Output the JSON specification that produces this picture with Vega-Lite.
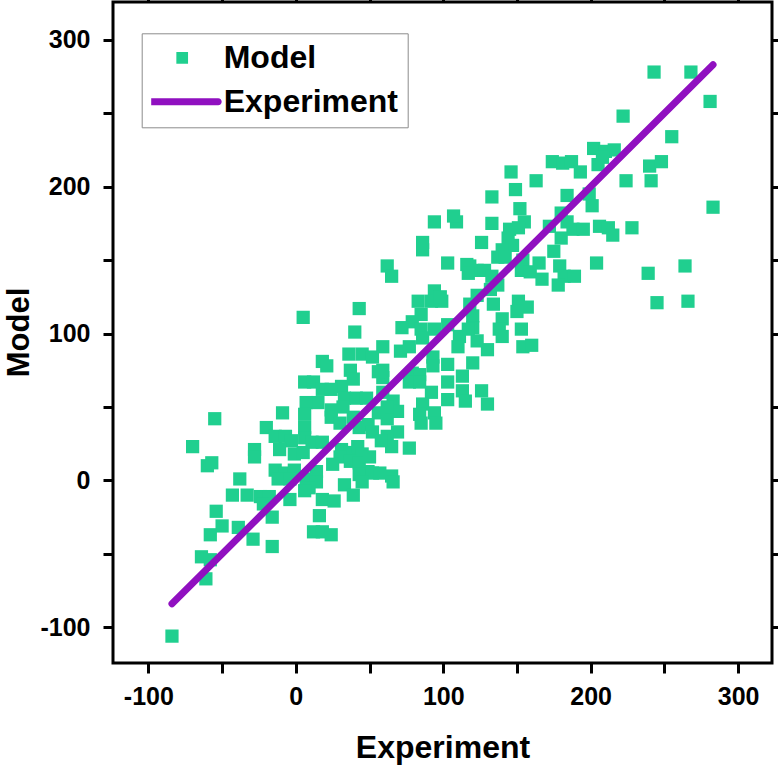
{
  "$schema": "https://vega.github.io/schema/vega-lite/v6.json",
  "width": 659,
  "height": 661,
  "autosize": {"type": "none"},
  "padding": {"left": 113, "top": 2, "right": 6, "bottom": 102},
  "background": "white",
  "config": {
    "view": {"stroke": "black", "strokeWidth": 3},
    "axis": {
      "labelFont": "Liberation Sans",
      "labelFontWeight": "bold",
      "labelFontSize": 25,
      "labelColor": "black",
      "titleFont": "Liberation Sans",
      "titleFontWeight": "bold",
      "titleFontSize": 32,
      "titleColor": "black",
      "tickColor": "black",
      "tickWidth": 3,
      "tickSize": 10,
      "domain": false,
      "grid": false,
      "labelFlush": false,
      "labelOverlap": false
    },
    "legend": {
      "orient": "none",
      "legendX": 28.7,
      "legendY": 31.3,
      "direction": "vertical",
      "labelFont": "Liberation Sans",
      "labelFontWeight": "bold",
      "labelFontSize": 32,
      "labelColor": "black",
      "labelLimit": 0,
      "symbolSize": 6241,
      "symbolStrokeWidth": 0,
      "clipHeight": 30,
      "rowPadding": 12,
      "padding": 9.5,
      "symbolOffset": -8.5,
      "labelOffset": 2,
      "strokeColor": "#8c8c8c",
      "fillColor": "white"
    }
  },
  "datasets": {
    "points": [
      {"experiment": 243, "model": 278}, {"experiment": 268, "model": 278}, {"experiment": 281, "model": 258},
      {"experiment": 222, "model": 248}, {"experiment": 255, "model": 234}, {"experiment": 202, "model": 226},
      {"experiment": 210, "model": 224}, {"experiment": 216, "model": 225}, {"experiment": 174, "model": 217},
      {"experiment": 181, "model": 216}, {"experiment": 187, "model": 217}, {"experiment": 193, "model": 210},
      {"experiment": 205, "model": 215}, {"experiment": 208, "model": 220}, {"experiment": 240, "model": 214},
      {"experiment": 248, "model": 217}, {"experiment": 224, "model": 204}, {"experiment": 241, "model": 204},
      {"experiment": 184, "model": 194}, {"experiment": 199, "model": 195}, {"experiment": 201, "model": 187},
      {"experiment": 180, "model": 182}, {"experiment": 283, "model": 186}, {"experiment": 184, "model": 176},
      {"experiment": 206, "model": 173}, {"experiment": 212, "model": 172}, {"experiment": 188, "model": 171},
      {"experiment": 195, "model": 171}, {"experiment": 215, "model": 167}, {"experiment": 228, "model": 172},
      {"experiment": 180, "model": 165}, {"experiment": 175, "model": 156}, {"experiment": 179, "model": 146},
      {"experiment": 204, "model": 148}, {"experiment": 264, "model": 146}, {"experiment": 239, "model": 141},
      {"experiment": 182, "model": 139}, {"experiment": 189, "model": 139}, {"experiment": 178, "model": 133},
      {"experiment": 245, "model": 121}, {"experiment": 266, "model": 122}, {"experiment": 146, "model": 210},
      {"experiment": 163, "model": 204}, {"experiment": 149, "model": 198}, {"experiment": 133, "model": 193},
      {"experiment": 152, "model": 185}, {"experiment": 133, "model": 175}, {"experiment": 155, "model": 176},
      {"experiment": 145, "model": 171}, {"experiment": 151, "model": 172}, {"experiment": 172, "model": 173},
      {"experiment": 126, "model": 162}, {"experiment": 144, "model": 165}, {"experiment": 147, "model": 160},
      {"experiment": 140, "model": 157}, {"experiment": 137, "model": 152}, {"experiment": 142, "model": 152},
      {"experiment": 154, "model": 150}, {"experiment": 118, "model": 146}, {"experiment": 123, "model": 143},
      {"experiment": 128, "model": 143}, {"experiment": 153, "model": 143}, {"experiment": 159, "model": 142},
      {"experiment": 165, "model": 148}, {"experiment": 133, "model": 139}, {"experiment": 167, "model": 137},
      {"experiment": 137, "model": 133}, {"experiment": 132, "model": 130}, {"experiment": 123, "model": 126},
      {"experiment": 118, "model": 120}, {"experiment": 134, "model": 120}, {"experiment": 151, "model": 122},
      {"experiment": 157, "model": 118}, {"experiment": 150, "model": 115}, {"experiment": 120, "model": 112},
      {"experiment": 140, "model": 110}, {"experiment": 120, "model": 104}, {"experiment": 138, "model": 103},
      {"experiment": 153, "model": 103}, {"experiment": 140, "model": 98}, {"experiment": 123, "model": 95},
      {"experiment": 130, "model": 89}, {"experiment": 154, "model": 91}, {"experiment": 160, "model": 92},
      {"experiment": 120, "model": 80}, {"experiment": 94, "model": 176}, {"experiment": 109, "model": 176},
      {"experiment": 86, "model": 162}, {"experiment": 86, "model": 157}, {"experiment": 103, "model": 148},
      {"experiment": 62, "model": 146}, {"experiment": 65, "model": 139}, {"experiment": 116, "model": 147},
      {"experiment": 117, "model": 141}, {"experiment": 94, "model": 129}, {"experiment": 99, "model": 122},
      {"experiment": 92, "model": 122}, {"experiment": 83, "model": 122}, {"experiment": 85, "model": 113},
      {"experiment": 79, "model": 108}, {"experiment": 72, "model": 104}, {"experiment": 85, "model": 103},
      {"experiment": 94, "model": 103}, {"experiment": 103, "model": 106}, {"experiment": 117, "model": 103},
      {"experiment": 86, "model": 97}, {"experiment": 111, "model": 98}, {"experiment": 59, "model": 91},
      {"experiment": 71, "model": 88}, {"experiment": 77, "model": 91}, {"experiment": 110, "model": 91},
      {"experiment": 93, "model": 84}, {"experiment": 103, "model": 79}, {"experiment": 93, "model": 78},
      {"experiment": 59, "model": 75}, {"experiment": 59, "model": 70}, {"experiment": 79, "model": 73},
      {"experiment": 84, "model": 72}, {"experiment": 77, "model": 67}, {"experiment": 84, "model": 67},
      {"experiment": 92, "model": 60}, {"experiment": 103, "model": 67}, {"experiment": 113, "model": 71},
      {"experiment": 113, "model": 61}, {"experiment": 126, "model": 61}, {"experiment": 59, "model": 60},
      {"experiment": 66, "model": 54}, {"experiment": 103, "model": 55}, {"experiment": 115, "model": 54},
      {"experiment": 130, "model": 52}, {"experiment": 86, "model": 52}, {"experiment": 84, "model": 45},
      {"experiment": 94, "model": 46}, {"experiment": 69, "model": 47}, {"experiment": 62, "model": 42},
      {"experiment": 85, "model": 39}, {"experiment": 95, "model": 39}, {"experiment": 69, "model": 33},
      {"experiment": 62, "model": 30}, {"experiment": 65, "model": 23}, {"experiment": 77, "model": 22},
      {"experiment": 107, "model": 180}, {"experiment": 98, "model": 125}, {"experiment": 5, "model": 111},
      {"experiment": 43, "model": 117}, {"experiment": 40, "model": 101}, {"experiment": 36, "model": 86},
      {"experiment": 45, "model": 86}, {"experiment": 52, "model": 84}, {"experiment": 18, "model": 81},
      {"experiment": 21, "model": 78}, {"experiment": 37, "model": 75}, {"experiment": 39, "model": 69},
      {"experiment": 56, "model": 74}, {"experiment": 6, "model": 67}, {"experiment": 12, "model": 67},
      {"experiment": 31, "model": 64}, {"experiment": 18, "model": 62}, {"experiment": 24, "model": 62},
      {"experiment": 33, "model": 56}, {"experiment": 41, "model": 56}, {"experiment": 48, "model": 56},
      {"experiment": 15, "model": 53}, {"experiment": 7, "model": 53}, {"experiment": -9, "model": 46},
      {"experiment": 24, "model": 48}, {"experiment": 32, "model": 50}, {"experiment": 62, "model": 50},
      {"experiment": 56, "model": 46}, {"experiment": 24, "model": 43}, {"experiment": 30, "model": 39},
      {"experiment": 39, "model": 43}, {"experiment": 43, "model": 36}, {"experiment": 49, "model": 38},
      {"experiment": 52, "model": 33}, {"experiment": 58, "model": 27}, {"experiment": -20, "model": 36},
      {"experiment": -14, "model": 30}, {"experiment": -7, "model": 30}, {"experiment": -3, "model": 27},
      {"experiment": 6, "model": 36}, {"experiment": 6, "model": 29}, {"experiment": 11, "model": 26},
      {"experiment": 18, "model": 26}, {"experiment": -11, "model": 21}, {"experiment": -1, "model": 18},
      {"experiment": 5, "model": 19}, {"experiment": 31, "model": 21}, {"experiment": 37, "model": 19},
      {"experiment": 42, "model": 23}, {"experiment": 45, "model": 18}, {"experiment": 30, "model": 16},
      {"experiment": 37, "model": 13}, {"experiment": -14, "model": 7}, {"experiment": -7, "model": 5},
      {"experiment": -1, "model": 7}, {"experiment": 14, "model": 6}, {"experiment": 25, "model": 11},
      {"experiment": 43, "model": 12}, {"experiment": 50, "model": 16}, {"experiment": 49, "model": 6},
      {"experiment": 43, "model": 4}, {"experiment": 52, "model": 5}, {"experiment": 57, "model": 5},
      {"experiment": 65, "model": 3}, {"experiment": 45, "model": -1}, {"experiment": 66, "model": -1},
      {"experiment": -12, "model": 1}, {"experiment": -4, "model": 1}, {"experiment": 7, "model": 1},
      {"experiment": 14, "model": -1}, {"experiment": 9, "model": -5}, {"experiment": 33, "model": -3},
      {"experiment": 39, "model": -10}, {"experiment": -24, "model": -11}, {"experiment": -18, "model": -11},
      {"experiment": -4, "model": -13}, {"experiment": 6, "model": -7}, {"experiment": 18, "model": -13},
      {"experiment": 26, "model": -14}, {"experiment": -22, "model": -16}, {"experiment": -16, "model": -25},
      {"experiment": 16, "model": -24}, {"experiment": 12, "model": -35}, {"experiment": 18, "model": -35},
      {"experiment": 24, "model": -37}, {"experiment": -16, "model": -45}, {"experiment": -55, "model": 42},
      {"experiment": -70, "model": 23}, {"experiment": -60, "model": 10}, {"experiment": -57, "model": 12},
      {"experiment": 6, "model": 45}, {"experiment": -28, "model": 21}, {"experiment": -28, "model": 16},
      {"experiment": -38, "model": 1}, {"experiment": -43, "model": -10}, {"experiment": -33, "model": -10},
      {"experiment": -54, "model": -21}, {"experiment": -50, "model": -31}, {"experiment": -39, "model": -32},
      {"experiment": -58, "model": -37}, {"experiment": -29, "model": -40}, {"experiment": -64, "model": -52},
      {"experiment": -58, "model": -54}, {"experiment": -61, "model": -67}, {"experiment": -84, "model": -106}
    ],
    "line": [
      {"experiment": -84, "model": -84},
      {"experiment": 283, "model": 283}
    ],
    "legendrows": []
  },
  "layer": [
    {
      "data": {"name": "points"},
      "mark": {"type": "point", "shape": "square", "filled": true, "size": 175, "opacity": 1, "strokeWidth": 0, "color": "#20CF8F"},
      "encoding": {
        "x": {
          "field": "experiment",
          "type": "quantitative",
          "scale": {"domain": [-124, 323], "nice": false, "zero": false},
          "axis": {
            "orient": "bottom",
            "title": "Experiment",
            "titleY": 94,
            "titleBaseline": "alphabetic",
            "labelPadding": 11,
            "values": [-100, -50, 0, 50, 100, 150, 200, 250, 300],
            "labelExpr": "datum.value % 100 === 0 ? '' + datum.value : ''",
            "encode": {"ticks": {"update": {"y2": {"signal": "datum.value % 100 === 0 ? 10 : 5"}}}}
          }
        },
        "y": {
          "field": "model",
          "type": "quantitative",
          "scale": {"domain": [-124.3, 325.7], "nice": false, "zero": false},
          "axis": {
            "orient": "left",
            "title": "Model",
            "titleFontSize": 31,
            "titleAngle": -90,
            "titleX": -85,
            "titleY": 330,
            "titleAlign": "center",
            "titleBaseline": "alphabetic",
            "labelPadding": 13,
            "values": [-100, -50, 0, 50, 100, 150, 200, 250, 300],
            "labelExpr": "datum.value % 100 === 0 ? '' + datum.value : ''",
            "encode": {"ticks": {"update": {"x2": {"signal": "datum.value % 100 === 0 ? -10 : -5"}}}}
          }
        }
      }
    },
    {
      "data": {"name": "line"},
      "mark": {"type": "line", "strokeWidth": 7, "strokeCap": "round", "color": "#9010C0"},
      "encoding": {
        "x": {
          "field": "experiment",
          "type": "quantitative",
          "axis": {
            "orient": "top",
            "title": null,
            "labels": false,
            "values": [-100, -50, 0, 50, 100, 150, 200, 250, 300],
            "encode": {"ticks": {"update": {"y2": {"signal": "datum.value % 100 === 0 ? 10 : 5"}}}}
          }
        },
        "y": {
          "field": "model",
          "type": "quantitative",
          "axis": {
            "orient": "right",
            "title": null,
            "labels": false,
            "values": [-100, -50, 0, 50, 100, 150, 200, 250, 300],
            "encode": {"ticks": {"update": {"x2": {"signal": "datum.value % 100 === 0 ? -10 : -5"}}}}
          }
        }
      }
    },
    {
      "data": {"name": "legendrows"},
      "mark": {"type": "point", "filled": true, "opacity": 1},
      "encoding": {
        "color": {
          "field": "series",
          "type": "nominal",
          "scale": {"domain": ["Model", "Experiment"], "range": ["#20CF8F", "#9010C0"]},
          "legend": {"title": null, "orient": "none", "direction": "vertical"}
        },
        "shape": {
          "field": "series",
          "type": "nominal",
          "scale": {
            "domain": ["Model", "Experiment"],
            "range": [
              "M-0.148,-0.148L0.148,-0.148L0.148,0.148L-0.148,0.148Z",
              "M-0.911,-0.089L0.911,-0.089A0.089,0.089 0 0 1 0.911,0.089L-0.911,0.089A0.089,0.089 0 0 1 -0.911,-0.089Z"
            ]
          },
          "legend": {"title": null, "orient": "none", "direction": "vertical"}
        }
      }
    }
  ],
  "resolve": {"axis": {"x": "independent", "y": "independent"}}
}
